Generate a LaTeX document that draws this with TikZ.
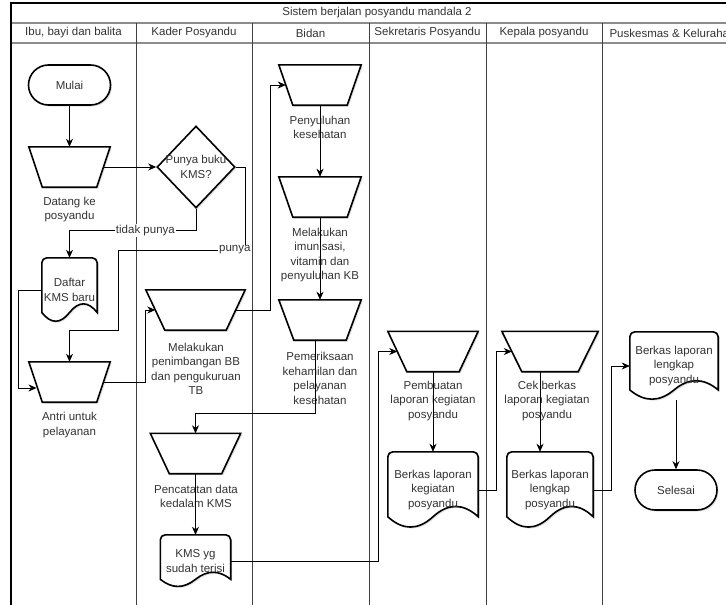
\documentclass[tikz,border=0pt]{standalone}
\usepackage{fontspec}
\setmainfont{Liberation Sans}
\usetikzlibrary{shapes.geometric,arrows.meta,shadows,calc,backgrounds}

\tikzset{
  lane/.style={draw=black!75, line width=0.9pt},
  hdrline/.style={draw=black!45, line width=1.2pt},
  txt/.style={font=\fontsize{11.5}{14.5}\selectfont, text=black!80, align=center, inner sep=0pt},
  shp/.style={draw=black, line width=1.6pt, fill=white,
    drop shadow={shadow xshift=1.5pt, shadow yshift=-1.5pt, opacity=0.25}},
  term/.style={shp, txt, rectangle, rounded corners=20pt, minimum width=82pt, minimum height=40pt},
  opbox/.style={rectangle, inner sep=0pt, minimum height=40pt},
  decision/.style={shp, txt, diamond, minimum width=78pt, minimum height=82pt},
  docbox/.style={txt, rectangle},
  conn/.style={draw=black, line width=0.8pt, -{Stealth[length=8pt,width=7pt,inset=2.5pt]}},
  elabel/.style={txt, fill=white, inner sep=1pt},
}

% manual operation: wide top, narrow bottom; #2 is the inset of each lower corner.
% Also names the midpoints of the two slanted sides (#1-w, #1-e).
\newcommand\manop[2]{%
  \path[shp] (#1.north west) -- (#1.north east) -- ($(#1.south east)+(-#2,0)$)
    -- ($(#1.south west)+(#2,0)$) -- cycle;
  \coordinate (#1-w) at ($(#1.west)+(#2/2,0)$);
  \coordinate (#1-e) at ($(#1.east)+(-#2/2,0)$);}

% document symbol: flat top with rounded corners, wavy bottom
\newcommand\docoutline[1]{%
  \path[shp] let \p1=(#1.south west), \p2=(#1.north east),
      \n1={\x2-\x1}, \n2={\y2-\y1} in
    (\x1,{\y1+0.15*\n2}) [rounded corners=5pt] -- (\x1,\y2) -- (\x2,\y2)
    [sharp corners] -- (\x2,{\y1+0.15*\n2})
    .. controls ({\x2-\n1/6},{\y1+0.33*\n2}) and ({\x1+\n1*2/3},{\y1+0.33*\n2}) ..
    ({\x1+\n1/2},{\y1+0.15*\n2})
    .. controls ({\x1+\n1/3},{\y1-0.03*\n2}) and ({\x1+\n1/6},{\y1-0.03*\n2}) ..
    (\x1,{\y1+0.15*\n2}) -- cycle;}

\begin{document}
\begin{tikzpicture}[x=1pt,y=-1pt]
\useasboundingbox (0,0) rectangle (726,605);
\clip (0,0) rectangle (726,605);

% pool frame and lanes
\draw[hdrline] (11,23) -- (743,23);
\draw[hdrline] (11,43) -- (743,43);
\foreach \lx in {136,252,369,486,602} \draw[lane] (\lx,23) -- (\lx,605);
\draw[line width=1.2pt] (11,605) -- (11,3) -- (743,3);

\node[txt] (title) at (377,13) {Sistem berjalan posyandu mandala 2};
\node[txt] (h1) at (73.5,33) {Ibu, bayi dan balita};
\node[txt] (h2) at (194,33) {Kader Posyandu};
\node[txt] (h3) at (310.5,33) {Bidan};
\node[txt] (h4) at (427.5,33) {Sekretaris Posyandu};
\node[txt] (h5) at (544,33) {Kepala posyandu};
\node[txt] (h6) at (672.5,33) {Puskesmas \& Kelurahan};

% Ibu, bayi dan balita
\node[term] (mulai) at (69.5,85) {Mulai};
\node[opbox, minimum width=81pt] (datang) at (69.5,167) {};
\manop{datang}{13.5}
\node[txt] (datang-t) at (69.5,209.5) {Datang ke\\posyandu};
\node[docbox, minimum width=55pt, minimum height=64pt] (daftar) at (69.5,290) {Daftar\\KMS baru};
\node[opbox, minimum width=81pt] (antri) at (69.5,382) {};
\manop{antri}{13.5}
\node[txt] (antri-t) at (69.5,425) {Antri untuk\\pelayanan};

% Kader Posyandu
\node[decision] (punya) at (196,167) {\makebox[0pt]{Punya buku}\\\makebox[0pt]{KMS?}};
\node[opbox, minimum width=99pt] (timbang) at (195.5,310) {};
\manop{timbang}{19}
\node[txt] (timbang-t) at (196,369) {Melakukan\\penimbangan BB\\dan pengukuruan\\TB};
\node[opbox, minimum width=90pt] (catat) at (195.5,453.5) {};
\manop{catat}{19}
\node[txt] (catat-t) at (196,496.5) {Pencatatan data\\kedalam KMS};
\node[docbox, minimum width=70pt, minimum height=52pt] (kms) at (195.5,561) {KMS yg\\sudah terisi};

% Bidan
\node[opbox, minimum width=82pt] (penyu) at (320,85) {};
\manop{penyu}{14}
\node[txt] (penyu-t) at (320,127.5) {Penyuluhan\\kesehatan};
\node[opbox, minimum width=82pt] (imun) at (320,197) {};
\manop{imun}{14}
\node[txt] (imun-t) at (320,255) {Melakukan\\imunisasi,\\vitamin dan\\penyuluhan KB};
\node[opbox, minimum width=82pt] (periksa) at (320,320) {};
\manop{periksa}{15}
\node[txt] (periksa-t) at (320,378.5) {Pemeriksaan\\kehamilan dan\\pelayanan\\kesehatan};

% Sekretaris Posyandu
\node[opbox, minimum width=90pt] (buat) at (433,351.5) {};
\manop{buat}{19}
\node[txt] (buat-t) at (433,401) {Pembuatan\\laporan kegiatan\\posyandu};
\node[docbox, minimum width=90pt, minimum height=76pt] (berkas1) at (433,490) {Berkas laporan\\kegiatan\\posyandu};

% Kepala posyandu
\node[opbox, minimum width=96pt] (cek) at (550,351.5) {};
\manop{cek}{20}
\node[txt] (cek-t) at (547,401) {Cek berkas\\laporan kegiatan\\posyandu};
\node[docbox, minimum width=86pt, minimum height=76pt] (berkas2) at (550,490) {Berkas laporan\\lengkap\\posyandu};

% Puskesmas & Kelurahan
\node[docbox, minimum width=88pt, minimum height=68pt] (berkas3) at (674,366) {Berkas laporan\\lengkap\\posyandu};
\node[term] (selesai) at (676,490) {Selesai};

% document outlines behind their texts
\begin{scope}[on background layer]
  \docoutline{daftar}
  \docoutline{kms}
  \docoutline{berkas1}
  \docoutline{berkas2}
  \docoutline{berkas3}
\end{scope}

% flow
\draw[conn] (mulai.south) -- (datang.north);
\draw[conn] (datang-e) -- (punya.west);
\draw[conn] (punya.south) -- ++(0,22) -| (daftar.north) node[elabel, pos=0.2] (tidak) {tidak punya};
\draw[conn] (punya.east) -- ++(10,0) -- ++(0,83) node[elabel, xshift=-11pt] (ya) {punya}
  -- ++(-127,0) -- ++(0,80) -| (antri.north);
\draw[conn] (daftar.west) -- ++(-23,0) |- ($(antri-w)+(1,6)$);
\draw[conn] (antri-e) -- ++(42,0) |- (timbang-w);
\draw[conn] (timbang-e) -- ++(35,0) |- (penyu-w);
\draw[conn] (penyu.south) -- (imun.north);
\draw[conn] (imun.south) -- (periksa.north);
\draw[conn] ([xshift=-5pt]periksa.south) -- ++(0,73) -| (catat.north);
\draw[conn] (catat.south) -- (kms.north);
\draw[conn] (kms.east) -- ++(148,0) |- (buat-w);
\draw[conn] (buat.south) -- (berkas1.north);
\draw[conn] (berkas1.east) -- ++(18,0) |- (cek-w);
\draw[conn] ([xshift=-10pt]cek.south) -- ([xshift=-10pt]berkas2.north);
\draw[conn] (berkas2.east) -- ++(18,0) |- (berkas3.west);
\draw[conn] (selesai.north |- berkas3.south) -- (selesai.north);
\end{tikzpicture}
\end{document}
